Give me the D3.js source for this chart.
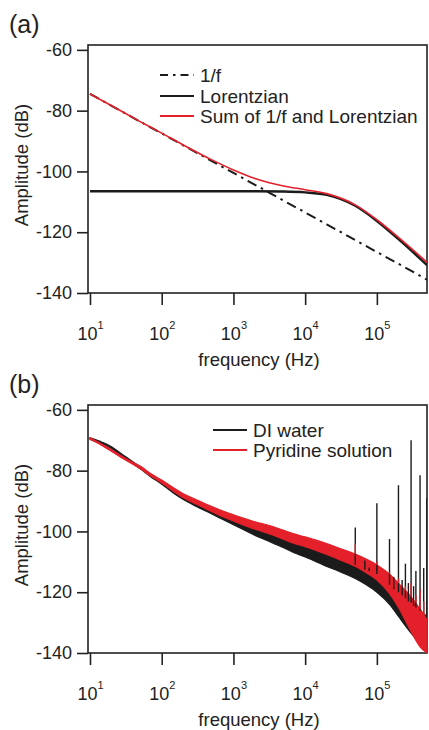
<!DOCTYPE html>
<html>
<head>
<meta charset="utf-8">
<script src="https://cdn.jsdelivr.net/npm/d3@7"></script>
<style>
  html, body { margin: 0; padding: 0; background: #fff; }
  svg { display: block; }
  text { font-family: "Liberation Sans", Arial, Helvetica, sans-serif; fill: #222; }
</style>
</head>
<body>
<div id="chart"></div>
<script>
// ---------------- DATA ----------------
// Panel (a): model curves
const aFreq      = [10, 20, 50, 100, 200, 500, 1000, 2000, 5000, 10000, 20000, 50000, 100000, 200000, 500000];
const aInvF      = [-74.5, -78.4, -83.6, -87.5, -91.4, -96.6, -100.5, -104.4, -109.6, -113.5, -117.4, -122.6, -126.5, -130.4, -135.6];
const aLorentz   = [-106.5, -106.5, -106.5, -106.5, -106.5, -106.5, -106.5, -106.5, -106.6, -106.9, -107.7, -111.3, -116.3, -122.3, -130.8];
const aSum       = [-74.5, -78.4, -83.6, -87.4, -91.3, -96.2, -99.5, -102.3, -104.8, -106.0, -107.3, -111.0, -115.9, -121.7, -129.9];
const aLegend    = ["1/f", "Lorentzian", "Sum of 1/f and Lorentzian"];

// Panel (b): measured spectra, read as noise-band envelopes (upper / lower)
const bFreq      = [10, 15, 20, 30, 40, 50, 70, 100, 150, 200, 300, 500, 700, 1000, 2000, 3000, 5000, 7000, 10000, 20000, 30000, 50000, 70000, 100000, 150000, 200000, 300000, 400000, 500000];
const waterUpper = [-69.2, -70.7, -72.1, -75.1, -77.1, -78.7, -81.2, -83.6, -86.6, -88.4, -90.4, -92.7, -94.3, -95.8, -98.8, -100.2, -102.0, -103.4, -104.5, -107.3, -108.8, -110.8, -112.3, -114.0, -117.5, -120.0, -123.5, -126.0, -128.0];
const waterLower = [-69.7, -71.2, -72.7, -75.8, -77.8, -79.4, -82.0, -84.5, -87.6, -89.5, -91.7, -94.3, -96.0, -97.8, -101.3, -103.1, -105.4, -107.0, -108.4, -111.5, -113.2, -115.5, -117.5, -120.0, -124.0, -128.0, -133.5, -137.0, -139.5];
const pyrUpper   = [-69.2, -71.4, -73.1, -75.7, -77.3, -78.5, -80.9, -83.1, -85.8, -87.6, -89.5, -91.8, -93.2, -94.5, -96.8, -97.9, -99.6, -100.8, -101.8, -104.0, -105.5, -107.4, -109.0, -111.0, -114.0, -117.0, -121.5, -125.5, -129.0];
const pyrLower   = [-69.7, -71.9, -73.7, -76.3, -78.0, -79.3, -81.8, -84.1, -87.0, -88.9, -91.0, -93.5, -95.1, -96.6, -99.3, -100.6, -102.6, -104.0, -105.0, -107.6, -109.3, -111.5, -113.5, -116.0, -120.5, -125.0, -133.0, -138.0, -140.0];
// narrow spectral spikes
const waterSpikeFreq = [50000, 68000, 78000, 100000, 150000, 172000, 200000, 225000, 250000, 275000, 300000, 325000, 350000, 400000, 450000, 497000];
const waterSpikeTop  = [-98.7, -109.6, -111.9, -90.7, -102.5, -115.0, -84.8, -116.0, -110.6, -117.0, -70.0, -118.0, -113.0, -81.5, -112.0, -89.0];
const waterSpikeBase = [-111.0, -112.5, -113.0, -114.0, -117.5, -119.0, -120.0, -121.0, -122.0, -123.0, -123.5, -124.5, -125.0, -126.0, -127.0, -128.0];
const pyrSpikeFreq   = [50000, 100000, 150000, 200000, 250000, 300000, 350000, 400000, 450000];
const pyrSpikeTop    = [-104.0, -110.0, -113.5, -115.5, -118.0, -117.0, -121.0, -119.0, -123.0];
const pyrSpikeBase   = [-107.5, -111.0, -114.0, -117.0, -119.5, -121.5, -123.5, -125.5, -127.5];
const bLegend    = ["DI water", "Pyridine solution"];

// tick labels
const xTickValues = [10, 100, 1000, 10000, 100000];
const xTickExp    = ["1", "2", "3", "4", "5"];
const yTickValues = [-60, -80, -100, -120, -140];

// ---------------- LAYOUT ----------------
const W = 429, H = 730;
const RED = "#e4202a", BLACK = "#1b1b1b";
const svg = d3.select("#chart").append("svg").attr("width", W).attr("height", H);
svg.append("rect").attr("width", W).attr("height", H).attr("fill", "#fff");

const x = d3.scaleLog().domain([9.38, 500000]).range([88, 427]);

function panel(top, bottom, letter) {
  const g = svg.append("g");
  const y = d3.scaleLinear().domain([-140, -58.4]).range([bottom, top]);

  const cid = "clip" + letter;
  svg.append("clipPath").attr("id", cid).append("rect")
    .attr("x", 88).attr("y", top).attr("width", 427 - 88).attr("height", bottom - top);

  // y axis
  g.append("g").attr("transform", `translate(88,0)`)
    .call(d3.axisLeft(y).tickValues(yTickValues).tickSize(11).tickPadding(5).tickFormat(d => String(d)))
    .call(a => a.select(".domain").remove())
    .call(a => a.selectAll("line").attr("stroke", "#222").attr("stroke-width", 1.6))
    .call(a => a.selectAll("text").attr("font-size", 18).attr("fill", "#222"));

  // x axis
  const xa = g.append("g").attr("transform", `translate(0,${bottom})`)
    .call(d3.axisBottom(x).tickValues(xTickValues).tickSize(12).tickFormat(() => ""))
    .call(a => a.select(".domain").remove())
    .call(a => a.selectAll("line").attr("stroke", "#222").attr("stroke-width", 1.6));
  xa.selectAll(".tick").each(function(d, i) {
    const t = d3.select(this).append("text")
      .attr("y", 47).attr("text-anchor", "middle").attr("fill", "#222").attr("font-size", 18);
    t.append("tspan").text("10");
    t.append("tspan").attr("font-size", 11).attr("dy", -11).text(xTickExp[i]);
  });

  // frame
  g.append("rect").attr("x", 88).attr("y", top).attr("width", 427 - 88).attr("height", bottom - top)
    .attr("fill", "none").attr("stroke", "#222").attr("stroke-width", 1.6);

  // axis titles
  g.append("text").attr("x", 259).attr("y", bottom + 73).attr("text-anchor", "middle")
    .attr("font-size", 18.5).text("frequency (Hz)");
  g.append("text").attr("transform", `translate(28,${(top + bottom) / 2 - 4}) rotate(-90)`)
    .attr("text-anchor", "middle").attr("font-size", 18.5).text("Amplitude (dB)");
  g.append("text").attr("x", 9).attr("y", top - 12).attr("font-size", 25).text(`(${letter})`);

  return { g, y, cid };
}

// ---------- Panel (a) ----------
{
  const { g, y, cid } = panel(45, 293, "a");
  const plot = g.append("g").attr("clip-path", `url(#${cid})`);
  const line = vals => d3.line().curve(d3.curveMonotoneX)
    .x((d, i) => x(aFreq[i])).y((d) => y(d))(vals);

  plot.append("path").attr("d", line(aInvF)).attr("fill", "none").attr("stroke", BLACK)
    .attr("stroke-width", 2).attr("stroke-dasharray", "10,5,2.5,5");
  plot.append("path").attr("d", line(aLorentz)).attr("fill", "none").attr("stroke", BLACK)
    .attr("stroke-width", 2.4);
  plot.append("path").attr("d", line(aSum)).attr("fill", "none").attr("stroke", RED)
    .attr("stroke-width", 1.6);

  // legend
  const lx1 = 160, lx2 = 194, tx = 200;
  const rows = [75, 96, 116];
  const styles = [
    { stroke: BLACK, dash: "8,5,2.5,5", w: 2 },
    { stroke: BLACK, dash: null, w: 2 },
    { stroke: RED, dash: null, w: 2 }
  ];
  aLegend.forEach((lab, i) => {
    const ln = g.append("line").attr("x1", lx1).attr("x2", lx2).attr("y1", rows[i]).attr("y2", rows[i])
      .attr("stroke", styles[i].stroke).attr("stroke-width", styles[i].w);
    if (styles[i].dash) ln.attr("stroke-dasharray", styles[i].dash);
    g.append("text").attr("x", tx).attr("y", rows[i] + 6.8).attr("font-size", 19).text(lab);
  });
}

// ---------- Panel (b) ----------
{
  const { g, y, cid } = panel(405, 653, "b");
  const plot = g.append("g").attr("clip-path", `url(#${cid})`);
  const area = (up, lo) => d3.area().curve(d3.curveMonotoneX)
    .x((d, i) => x(bFreq[i])).y0((d, i) => y(lo[i])).y1((d, i) => y(up[i]))(up);

  plot.append("path").attr("d", area(waterUpper, waterLower)).attr("fill", BLACK)
    .attr("stroke", BLACK).attr("stroke-width", 1.1);
  plot.append("path").attr("d", area(pyrUpper, pyrLower)).attr("fill", RED)
    .attr("stroke", RED).attr("stroke-width", 1.1);

  waterSpikeFreq.forEach((f, i) => {
    plot.append("line").attr("x1", x(f)).attr("x2", x(f))
      .attr("y1", y(waterSpikeBase[i])).attr("y2", y(waterSpikeTop[i]))
      .attr("stroke", BLACK).attr("stroke-width", 1.4);
  });
  pyrSpikeFreq.forEach((f, i) => {
    plot.append("line").attr("x1", x(f)).attr("x2", x(f))
      .attr("y1", y(pyrSpikeBase[i])).attr("y2", y(pyrSpikeTop[i]))
      .attr("stroke", RED).attr("stroke-width", 1.4);
  });

  // legend
  const lx1 = 213, lx2 = 247, tx = 253;
  const rows = [430, 450];
  [BLACK, RED].forEach((c, i) => {
    g.append("line").attr("x1", lx1).attr("x2", lx2).attr("y1", rows[i]).attr("y2", rows[i])
      .attr("stroke", c).attr("stroke-width", 2);
    g.append("text").attr("x", tx).attr("y", rows[i] + 6.8).attr("font-size", 19).text(bLegend[i]);
  });
}
</script>
</body>
</html>
